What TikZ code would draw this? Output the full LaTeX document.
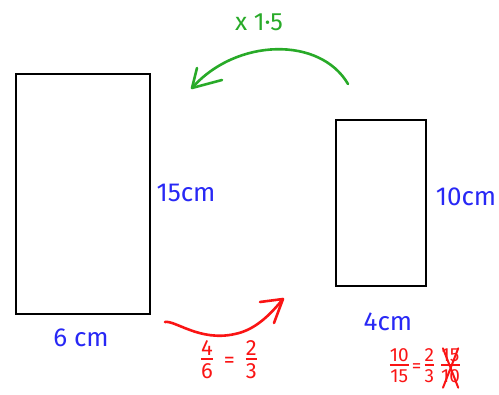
\documentclass[tikz,border=0pt]{standalone}
\usepackage{fontspec}
\setmainfont{Fira Sans}
\usetikzlibrary{arrows.meta}
\definecolor{penblue}{RGB}{40,40,245}
\definecolor{pengreen}{RGB}{40,170,40}
\definecolor{penred}{RGB}{250,20,20}
\newcommand{\hfr}[2]{\begin{tabular}{@{}c@{}}#1\\[-4pt]\hline\noalign{\vskip1pt}#2\end{tabular}}
\tikzset{
  rect/.style={draw=black, line width=1.6pt},
  bluelabel/.style={text=penblue, font=\fontsize{26}{30}\selectfont, inner sep=0pt},
  redlabel/.style={text=penred, inner sep=0pt},
  greenlabel/.style={text=pengreen, font=\fontsize{25}{28}\selectfont, inner sep=0pt},
  pen/.style={line width=2.6pt, line cap=round, line join=round},
}
\begin{document}
\begin{tikzpicture}[x=1pt,y=-1pt]
\useasboundingbox (0,0) rectangle (499,395);
% rectangles
\node[rect, minimum width=134pt, minimum height=240pt, anchor=north west, inner sep=0pt] (big) at (15,73) {};
\node[rect, minimum width=90pt, minimum height=166pt, anchor=north west, inner sep=0pt] (small) at (335,119) {};
% labels
\node[bluelabel] (l15) at (186,193) {15cm};
\node[bluelabel] (l10) at (466,197) {10cm};
\node[bluelabel] (l6) at (81,338) {6 cm};
\node[bluelabel] (l4) at (388,322) {4cm};
\node[greenlabel] (g) at (259,22) {x 1·5};
% green arrow
\coordinate (gs) at (348,84);
\coordinate (ge) at (192,88);
\draw[pen, draw=pengreen] (gs) .. controls (320,36) and (236,38) .. (ge);
\draw[pen, draw=pengreen] (ge) -- (197,68);
\draw[pen, draw=pengreen] (ge) -- (222,80);
% red arrow
\coordinate (rs) at (165,322);
\coordinate (re) at (283,299);
\draw[pen, draw=penred] (rs) .. controls (175,320) and (200,342) .. (235,334) .. controls (255,330) and (270,315) .. (re);
\draw[pen, draw=penred] (re) -- (260,302);
\draw[pen, draw=penred] (re) -- (274,323);
\node[redlabel, font=\fontsize{22}{24}\selectfont\setlength{\arrayrulewidth}{2pt}] (f1) at (229,362)
  {\hfr{4}{6}\enspace=\enspace\hfr{2}{3}};
\node[redlabel, font=\fontsize{19}{22}\selectfont\setlength{\arrayrulewidth}{2pt}] (f2) at (412,368)
  {\hfr{10}{15}\,=\,\hfr{2}{3}};
\node[redlabel, font=\fontsize{19}{22}\selectfont\setlength{\arrayrulewidth}{2pt}, anchor=west] (f3) at (441,368)
  {\hfr{15}{10}};
\draw[line width=2pt, draw=penred, line cap=round] ([shift={(2,2)}]f3.north west) -- ([shift={(-2,-2)}]f3.south east)
  ([shift={(2,-2)}]f3.south west) -- ([shift={(-2,2)}]f3.north east);
\end{tikzpicture}
\end{document}
